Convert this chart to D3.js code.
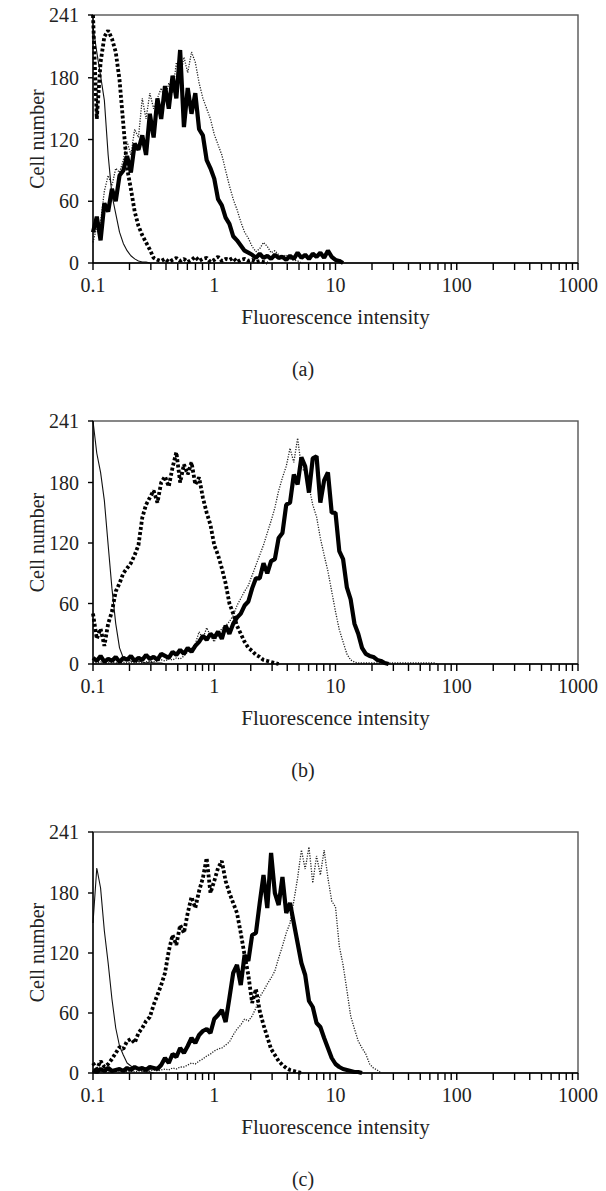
<!DOCTYPE html>
<html>
<head>
<meta charset="utf-8">
<script src="https://cdn.jsdelivr.net/npm/d3@7/dist/d3.min.js"></script>
<style>
  body { margin: 0; background: #fff; }
  text { font-family: "Liberation Serif", "Times New Roman", serif; fill: #222; }
</style>
</head>
<body>
<script>
const width = 606;
const height = 1191;

// histogram counts, one value every 2 channels (256 channels = 0.1 .. 1000)
const channelStep = 2;

const aThin   = [230, 205, 182, 158, 105, 66, 48, 30, 19, 12, 7, 4, 2, 1, 1, 0];
const aDashed = [241, 140, 195, 220, 226, 218, 205, 178, 135, 92, 72, 50, 36, 27, 20, 13, 5, 3, 2, 4,
                 1, 3, 5, 2, 4, 1, 3, 6, 2, 4, 5, 1, 3, 6, 2, 4, 3, 5, 1, 3, 4, 2, 3, 1, 2, 1, 0];
const aThick  = [30, 45, 22, 58, 50, 72, 60, 85, 90, 104, 88, 116, 110, 124, 105, 145, 122, 160, 140, 172,
                 150, 182, 160, 207, 132, 170, 145, 165, 130, 124, 100, 92, 82, 62, 56, 44, 38, 26, 22, 17,
                 12, 10, 8, 5, 9, 5, 7, 4, 8, 5, 6, 3, 7, 4, 10, 5, 8, 4, 9, 6, 10, 5, 12, 6, 3, 2, 0];
const aDotted = [20, 35, 40, 70, 85, 75, 92, 88, 100, 118, 105, 130, 122, 160, 140, 165, 150, 160, 170, 158,
                 175, 165, 195, 180, 200, 185, 205, 195, 175, 160, 150, 140, 125, 115, 105, 90, 75, 62, 52, 40,
                 30, 24, 16, 11, 14, 20, 16, 10, 12, 8, 6, 8, 4, 3, 2, 0];

const bThin   = [241, 209, 190, 162, 118, 75, 40, 16, 6, 4, 3, 2, 3, 2, 1, 2, 1, 1, 1, 0];
const bDashed = [50, 25, 35, 18, 40, 52, 72, 80, 90, 95, 100, 108, 118, 145, 158, 165, 172, 160, 180, 186,
                 176, 195, 210, 180, 198, 188, 200, 178, 185, 165, 150, 138, 118, 108, 95, 80, 60, 50, 38, 30,
                 22, 16, 13, 9, 7, 4, 3, 2, 1, 0];
const bThick  = [6, 3, 8, 2, 5, 3, 7, 2, 6, 4, 8, 3, 6, 4, 9, 5, 7, 4, 10, 8,
                 6, 12, 9, 14, 10, 16, 12, 18, 22, 28, 24, 30, 26, 32, 25, 38, 30, 40, 46, 50,
                 58, 62, 75, 85, 85, 100, 90, 102, 104, 125, 130, 158, 160, 188, 178, 205, 196, 170, 204, 206,
                 160, 182, 190, 150, 150, 112, 104, 76, 64, 40, 30, 16, 10, 8, 7, 4, 3, 1, 0];
const bDotted = [2, 1, 2, 1, 1, 2, 1, 1, 2, 1, 2, 1, 2, 1, 2, 3, 2, 3, 4, 3,
                 5, 4, 6, 5, 8, 12, 15, 20, 32, 25, 36, 28, 22, 30, 35, 38, 42, 48, 58, 65,
                 72, 78, 88, 98, 108, 118, 130, 142, 155, 172, 185, 196, 214, 200, 224, 195, 190, 176, 158, 146,
                 125, 108, 92, 72, 52, 34, 22, 10, 4, 2, 1, 1, 1, 1, 1, 1, 1, 1, 1, 1,
                 1, 1, 1, 1, 1, 1, 1, 1, 1, 1, 1, 0];

const cThin   = [150, 205, 185, 142, 110, 74, 45, 27, 18, 10, 7, 5, 4, 2, 1, 1, 0];
const cDashed = [10, 4, 12, 6, 9, 14, 20, 26, 24, 32, 34, 30, 40, 45, 52, 56, 68, 78, 88, 100,
                 122, 138, 128, 148, 140, 160, 176, 165, 182, 195, 215, 180, 192, 205, 212, 192, 180, 170, 160, 140,
                 118, 98, 70, 84, 62, 48, 36, 24, 18, 12, 8, 5, 3, 2, 1, 0];
const cThick  = [3, 1, 4, 2, 5, 2, 3, 4, 2, 5, 3, 6, 4, 5, 3, 6, 5, 4, 8, 15,
                 10, 19, 16, 25, 20, 27, 35, 30, 38, 42, 44, 40, 54, 58, 63, 51, 75, 100, 108, 88,
                 118, 112, 138, 140, 170, 198, 165, 220, 180, 168, 196, 160, 170, 150, 130, 110, 98, 72, 66, 50,
                 46, 35, 25, 15, 9, 6, 4, 3, 2, 1, 1, 0];
const cDotted = [2, 1, 1, 2, 1, 1, 2, 1, 2, 1, 2, 1, 2, 2, 1, 2, 3, 2, 3, 4,
                 3, 5, 4, 6, 6, 8, 10, 9, 12, 14, 17, 19, 22, 24, 25, 28, 31, 38, 44, 48,
                 54, 52, 57, 65, 76, 82, 89, 95, 102, 115, 127, 140, 150, 172, 195, 223, 204, 226, 190, 217,
                 198, 223, 195, 172, 166, 127, 108, 83, 57, 44, 32, 25, 19, 9, 5, 3, 0];

const xTicks = [0.1, 1, 10, 100, 1000];
const xTickLabels = ["0.1", "1", "10", "100", "1000"];
const yTicks = [0, 60, 120, 180, 241];
const panelNames = ["(a)", "(b)", "(c)"];

const left = 93, right = 578;
const layout = [
  { top: 15, bottom: 263 },
  { top: 421, bottom: 664 },
  { top: 832, bottom: 1073 }
];
const series = [
  [aDotted, aThin, aDashed, aThick],
  [bDotted, bThin, bDashed, bThick],
  [cDotted, cThin, cDashed, cThick]
];

const svg = d3.select('body').append('svg').attr('width', width).attr('height', height);

const x = d3.scaleLog().domain([0.1, 1000]).range([left, right]);
const chan = d3.scaleLinear().domain([0, 256]).range([left, right]);

// log ticks 1..9 in every decade
const allXTicks = [];
xTicks.slice(0, -1).forEach(d => { for (let k = 1; k <= 9; k++) allXTicks.push(d * k); });
allXTicks.push(xTicks[xTicks.length - 1]);

const styles = [
  { w: 1.3, dash: "1.2,1.4", color: "#222" },   // thin dotted
  { w: 1.1, dash: null, color: "#111" },        // thin solid
  { w: 3.8, dash: "3,2.2", color: "#000" },     // thick dashed
  { w: 4.2, dash: null, color: "#000" }         // thick solid
];

layout.forEach((p, pi) => {
  const y = d3.scaleLinear().domain([0, 241]).range([p.bottom, p.top]);
  const g = svg.append("g").attr("class", "panel");

  // frame
  g.append("rect")
    .attr("x", left).attr("y", p.top)
    .attr("width", right - left).attr("height", p.bottom - p.top)
    .style("fill", "none").style("stroke", "#555").style("stroke-width", 1.4);

  const line = d3.line()
    .x((d, i) => chan(i * channelStep))
    .y(d => y(d));

  series[pi].forEach((vals, si) => {
    g.append("path")
      .datum(vals)
      .attr("d", line)
      .style("fill", "none")
      .style("stroke", styles[si].color)
      .style("stroke-width", styles[si].w)
      .style("stroke-dasharray", styles[si].dash)
      .style("stroke-linejoin", "bevel");
  });

  // x axis line + log ticks
  g.append("line")
    .attr("x1", left).attr("x2", right)
    .attr("y1", p.bottom).attr("y2", p.bottom)
    .style("stroke", "#000").style("stroke-width", 1.3);
  g.selectAll("line.xtick")
    .data(allXTicks)
    .enter().append("line")
    .attr("class", "xtick")
    .attr("x1", d => x(d)).attr("x2", d => x(d))
    .attr("y1", p.bottom).attr("y2", p.bottom + 7)
    .style("stroke", "#000").style("stroke-width", 1.4);

  g.selectAll("text.xlab")
    .data(xTicks)
    .enter().append("text")
    .attr("class", "xlab")
    .attr("x", d => x(d))
    .attr("y", p.bottom + 29)
    .attr("text-anchor", "middle")
    .style("font-size", "20px")
    .text((d, i) => xTickLabels[i]);

  // y axis line + ticks
  g.append("line")
    .attr("x1", left).attr("x2", left)
    .attr("y1", p.top).attr("y2", p.bottom)
    .style("stroke", "#000").style("stroke-width", 1.3);
  g.selectAll("line.ytick")
    .data(yTicks)
    .enter().append("line")
    .attr("class", "ytick")
    .attr("x1", left - 5).attr("x2", left)
    .attr("y1", d => y(d)).attr("y2", d => y(d))
    .style("stroke", "#000").style("stroke-width", 1.4);

  g.selectAll("text.ylab")
    .data(yTicks)
    .enter().append("text")
    .attr("class", "ylab")
    .attr("x", left - 14)
    .attr("y", d => y(d))
    .attr("dy", "0.35em")
    .attr("text-anchor", "end")
    .style("font-size", "20px")
    .text(d => d);

  g.append("text")
    .attr("transform", `translate(37,${(p.top + p.bottom) / 2}) rotate(-90)`)
    .attr("dy", "0.35em")
    .attr("text-anchor", "middle")
    .style("font-size", "20px")
    .text("Cell number");

  g.append("text")
    .attr("x", (left + right) / 2)
    .attr("y", p.bottom + 61)
    .attr("text-anchor", "middle")
    .style("font-size", "21px")
    .text("Fluorescence intensity");

  g.append("text")
    .attr("x", width / 2)
    .attr("y", p.bottom + 113)
    .attr("text-anchor", "middle")
    .style("font-size", "20px")
    .text(panelNames[pi]);
});
</script>
</body>
</html>
